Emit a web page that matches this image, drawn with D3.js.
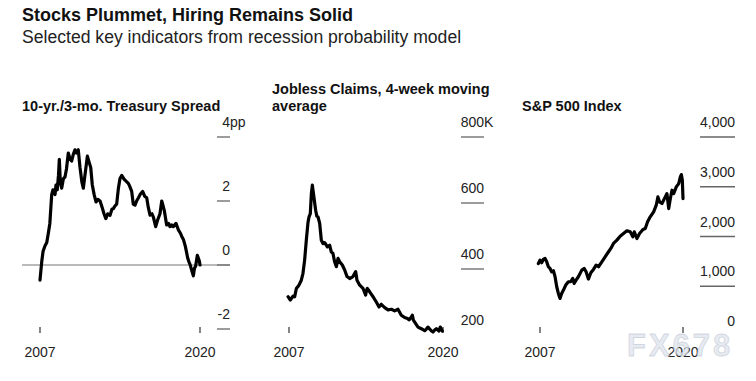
<!DOCTYPE html>
<html><head><meta charset="utf-8">
<script src="https://cdn.jsdelivr.net/npm/d3@7"></script>
<style>
html,body{margin:0;padding:0;background:#fff;}
svg{display:block;font-family:"Liberation Sans",Arial,Helvetica,sans-serif;}
</style></head>
<body>
<svg id="chart" width="756" height="381"></svg>
<script>
// ---- data ----
const chartTitle = "Stocks Plummet, Hiring Remains Solid";
const chartSubtitle = "Selected key indicators from recession probability model";

const spreadYears = [2007.0,2007.14,2007.25,2007.41,2007.55,2007.68,2007.8,2007.95,2008.05,2008.22,2008.3,2008.4,2008.5,2008.57,2008.65,2008.76,2008.9,2009.03,2009.15,2009.3,2009.45,2009.57,2009.7,2009.84,2009.95,2010.11,2010.25,2010.4,2010.52,2010.65,2010.85,2011.0,2011.12,2011.25,2011.4,2011.55,2011.7,2011.88,2012.05,2012.2,2012.35,2012.5,2012.69,2012.85,2012.96,2013.1,2013.23,2013.37,2013.5,2013.64,2013.8,2013.91,2014.05,2014.18,2014.3,2014.45,2014.58,2014.72,2014.85,2015.0,2015.13,2015.34,2015.5,2015.67,2015.8,2015.94,2016.1,2016.21,2016.4,2016.55,2016.75,2016.89,2017.0,2017.1,2017.29,2017.45,2017.56,2017.7,2017.83,2018.05,2018.24,2018.4,2018.51,2018.65,2018.81,2019.0,2019.1,2019.19,2019.35,2019.46,2019.55,2019.65,2019.78,2019.88,2019.95,2020.0];
const spreadValues = [-0.47,0.1,0.43,0.6,0.7,1.0,1.3,2.2,2.35,2.2,2.5,2.35,2.8,3.3,2.6,2.4,2.7,2.75,3.0,3.5,3.3,3.25,3.45,3.6,3.5,3.6,3.05,2.6,2.4,2.8,3.4,3.2,3.05,2.5,2.2,1.97,2.05,2.0,1.8,1.6,1.45,1.6,1.55,1.75,1.76,1.85,1.9,2.4,2.7,2.8,2.7,2.65,2.6,2.55,2.45,2.3,1.9,1.87,2.0,2.1,2.2,2.3,2.15,2.1,1.8,1.56,1.6,1.5,1.2,1.4,1.6,2.0,1.85,1.7,1.25,1.3,1.2,1.25,1.2,1.3,1.1,1.0,0.9,0.8,0.58,0.22,0.1,0.02,-0.2,-0.34,-0.1,-0.03,0.3,0.2,0.12,0.0];
const spreadTicks = [4, 2, 0, -2];

const claimsYears = [2006.92,2007.11,2007.34,2007.48,2007.62,2007.84,2008.04,2008.18,2008.32,2008.46,2008.6,2008.69,2008.8,2008.89,2008.97,2009.08,2009.25,2009.35,2009.45,2009.59,2009.73,2009.87,2010.0,2010.07,2010.24,2010.43,2010.57,2010.71,2010.85,2011.0,2011.14,2011.28,2011.5,2011.7,2011.9,2012.12,2012.4,2012.63,2012.74,2012.97,2013.25,2013.47,2013.54,2013.61,2013.81,2014.09,2014.37,2014.6,2014.79,2015.08,2015.36,2015.64,2015.92,2016.2,2016.48,2016.76,2017.0,2017.13,2017.28,2017.41,2017.5,2017.61,2017.89,2018.17,2018.45,2018.6,2018.73,2019.01,2019.16,2019.3,2019.44,2019.66,2019.77,2019.94];
const claimsValues = [316,306,318,316,341,351,366,387,427,487,540,558,568,629,654,624,578,560,558,538,487,477,480,477,467,472,452,447,422,407,432,422,412,397,377,371,377,392,366,351,341,321,335,341,331,316,300,285,293,283,276,278,273,278,260,253,250,246,252,260,245,239,224,219,213,218,224,213,209,215,219,212,224,212];
const claimsTicks = [800, 600, 400, 200];

const spxYears = [2006.85,2007.0,2007.15,2007.3,2007.46,2007.61,2007.76,2007.91,2008.06,2008.22,2008.37,2008.52,2008.67,2008.82,2008.97,2009.13,2009.34,2009.58,2009.79,2009.98,2010.1,2010.28,2010.49,2010.8,2011.01,2011.19,2011.4,2011.62,2011.86,2012.1,2012.32,2012.62,2012.92,2013.23,2013.44,2013.68,2013.99,2014.29,2014.59,2014.9,2015.2,2015.44,2015.57,2015.81,2016.05,2016.36,2016.57,2016.78,2017.02,2017.33,2017.57,2017.72,2017.87,2018.09,2018.39,2018.54,2018.7,2018.85,2019.0,2019.15,2019.39,2019.61,2019.76,2019.85,2019.94,2020.0];
const spxValues = [1458,1525,1472,1539,1559,1492,1392,1358,1291,1311,1191,990,856,756,856,923,1024,1090,1090,1157,1057,1124,1191,1324,1358,1291,1144,1271,1338,1425,1392,1492,1592,1693,1760,1860,1927,2007,2060,2114,2094,1994,2094,1960,2060,2141,2161,2295,2395,2495,2629,2796,2696,2663,2796,2863,2562,2763,2930,2863,2997,3064,3198,3245,3131,2763];
const spxTicks = [4000, 3000, 2000, 1000, 0];

const xTickYears = [2007, 2020];

// ---- drawing ----
const svg = d3.select("#chart");
svg.append("text").attr("x", 22).attr("y", 21).attr("font-size", 18).attr("font-weight", "bold").attr("fill", "#111").text(chartTitle);
svg.append("text").attr("x", 22).attr("y", 43).attr("font-size", 17.6).attr("fill", "#222").text(chartSubtitle);

const panels = [
  { title: ["10-yr./3-mo. Treasury Spread"], titleX: 22, titleY: 111,
    years: spreadYears, values: spreadValues, ticks: spreadTicks,
    xRange: [40, 200], yDomain: [4, -2], yRange: [137, 329],
    tickX: [217, 230], fmt: v => v === 4 ? ["4", "pp"] : [String(v), ""],
    shownTicks: [4, 2, 0, -2], zeroLine: [22, 230] },
  { title: ["Jobless Claims, 4-week moving", "average"], titleX: 272, titleY: 94,
    years: claimsYears, values: claimsValues, ticks: claimsTicks,
    xRange: [289, 443], yDomain: [800, 200], yRange: [137, 335],
    tickX: [461, 484], fmt: v => v === 800 ? ["800", "K"] : [String(v), ""],
    shownTicks: [800, 600, 400] },
  { title: ["S&P 500 Index"], titleX: 522, titleY: 111,
    years: spxYears, values: spxValues, ticks: spxTicks,
    xRange: [540, 683], yDomain: [4000, 0], yRange: [137, 336],
    tickX: [700, 735], fmt: v => [d3.format(",")(v), ""],
    shownTicks: [4000, 3000, 2000, 1000] }
];

panels.forEach(p => {
  const g = svg.append("g");
  const x = d3.scaleLinear().domain([2007, 2020]).range(p.xRange);
  const y = d3.scaleLinear().domain(p.yDomain).range(p.yRange);

  const t = g.append("text").attr("x", p.titleX).attr("y", p.titleY)
    .attr("font-size", 14.5).attr("font-weight", "bold").attr("fill", "#111");
  p.title.forEach((line, i) => {
    t.append("tspan").attr("x", p.titleX).attr("dy", i === 0 ? 0 : 17).text(line);
  });

  p.ticks.forEach(v => {
    const yy = y(v);
    if (p.shownTicks.includes(v)) {
      g.append("line").attr("x1", p.tickX[0]).attr("x2", p.tickX[1])
        .attr("y1", yy).attr("y2", yy).attr("stroke", "#666").attr("stroke-width", 1.3);
    }
    const [num, suf] = p.fmt(v);
    g.append("text").attr("x", p.tickX[1]).attr("y", yy - 10)
      .attr("text-anchor", "end").attr("font-size", 14).attr("fill", "#222").text(num);
    if (suf) {
      g.append("text").attr("x", p.tickX[1]).attr("y", yy - 10)
        .attr("font-size", 14).attr("fill", "#222").text(suf);
    }
  });

  if (p.zeroLine) {
    g.append("line").attr("x1", p.zeroLine[0]).attr("x2", p.zeroLine[1])
      .attr("y1", y(0)).attr("y2", y(0)).attr("stroke", "#777").attr("stroke-width", 1.2);
  }

  xTickYears.forEach(yr => {
    g.append("line").attr("x1", x(yr)).attr("x2", x(yr)).attr("y1", 327).attr("y2", 333)
      .attr("stroke", "#333").attr("stroke-width", 1.2);
    g.append("text").attr("x", x(yr)).attr("y", 357).attr("text-anchor", "middle")
      .attr("font-size", 14).attr("fill", "#222").text(yr);
  });

  const line = d3.line().x((d, i) => x(p.years[i])).y(d => y(d)).curve(d3.curveLinear);
  g.append("path").datum(p.values).attr("d", line).attr("fill", "none")
    .attr("stroke", "#000").attr("stroke-width", 3.2).attr("stroke-linejoin", "round").attr("stroke-linecap", "round");
});

// watermark
svg.append("text").attr("x", 627).attr("y", 356).attr("font-size", 31).attr("font-weight", "bold")
  .attr("fill", "#dfe4ec").attr("fill-opacity", 0.75).attr("stroke", "#b9c3d1").attr("stroke-opacity", 0.6)
  .attr("stroke-width", 0.8).attr("letter-spacing", 3).text("FX678");
</script>
</body></html>
